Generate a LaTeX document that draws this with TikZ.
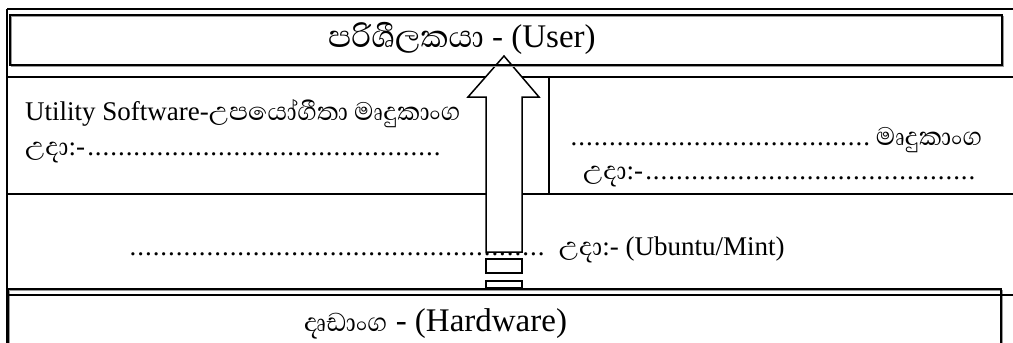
\documentclass[tikz,border=0pt]{standalone}
\usepackage{fontspec}
\setmainfont{Liberation Serif}
\newfontfamily\sinhalafont[Script=Sinhala,Scale=1.2]{Abhaya Libre}
\newfontfamily\sinhalaplain[Script=Sinhala]{Abhaya Libre}
% text followed by dots filling a box of the given width
\newcommand\textdots[2]{\hbox to #1{#2\leaders\hbox to 7.7pt{\hss.\hss}\hfill}}
% dots filling a box of the given width, followed by text
\newcommand\dotstext[2]{\hbox to #1{\leaders\hbox to 7.7pt{\hss.\hss}\hfill#2}}

\tikzset{
  rowrule/.style={line width=1.6pt},
  toprule/.style={line width=2.4pt},
  boxline/.style={draw=black, line width=1.5pt},
  boxshade/.style={draw=black!40, line width=1.3pt},
  upblock/.style={draw=black, fill=white, line width=1.5pt, line join=miter},
  lbl/.style={inner sep=0pt, anchor=base west, font=\fontsize{27}{30}\selectfont},
  biglbl/.style={inner sep=0pt, anchor=base west, font=\fontsize{33}{36}\selectfont},
}

\begin{document}
\begin{tikzpicture}[x=1pt, y=-1pt]
\useasboundingbox (0,0) rectangle (1013,343);
\clip (0,0) rectangle (1013,343);

% table frame
\draw[toprule] (7,9) -- (1013,9);
\draw[rowrule] (7,9) -- (7,343);
\draw[rowrule] (7,77) -- (1013,77);
\draw[rowrule] (7,194) -- (1013,194);
\draw[rowrule] (549,77) -- (549,194);
\draw[toprule] (7,295) -- (1013,295);

% texts
\node[lbl] (util) at (25,120) {Utility Software-{\sinhalafont උපයෝගීතා මෘදුකාංග}};
\node[lbl] (utilex) at (25,155) {\textdots{419pt}{{\sinhalafont උදා}:-}};
\node[lbl] (app) at (570,145) {\dotstext{412pt}{{\sinhalafont මෘදුකාංග}}};
\node[lbl] (appex) at (583,179) {\textdots{400pt}{{\sinhalafont උදා}:-}};
\node[lbl] (os) at (129,255) {\dotstext{423pt}{} {\sinhalafont උදා}:- (Ubuntu/Mint)};

% upward block arrow
\draw[upblock] (504,56) -- (539,97) -- (522,97) -- (522,252) -- (486,252)
  -- (486,97) -- (468,97) -- cycle;
\draw[upblock] (486,259) rectangle (522,273);
\draw[upblock] (486,281) rectangle (522,288);

% user box
\draw[boxshade] (11.5,16.5) rectangle (1003.5,66.5);
\draw[boxline] (10,15) rectangle (1002,65);
\node[biglbl] (user) at (328,47) {{\sinhalafont පරිශීලකයා} - (User)};

% hardware box
\draw[boxshade] (9.5,290.5) rectangle (1002.5,360);
\draw[boxline] (8,289) rectangle (1001,360);
\draw[toprule] (8,295) -- (1013,295);
\node[biglbl] (hw) at (304,331) {{\sinhalaplain දෘඩාංග} - (Hardware)};
\end{tikzpicture}
\end{document}
